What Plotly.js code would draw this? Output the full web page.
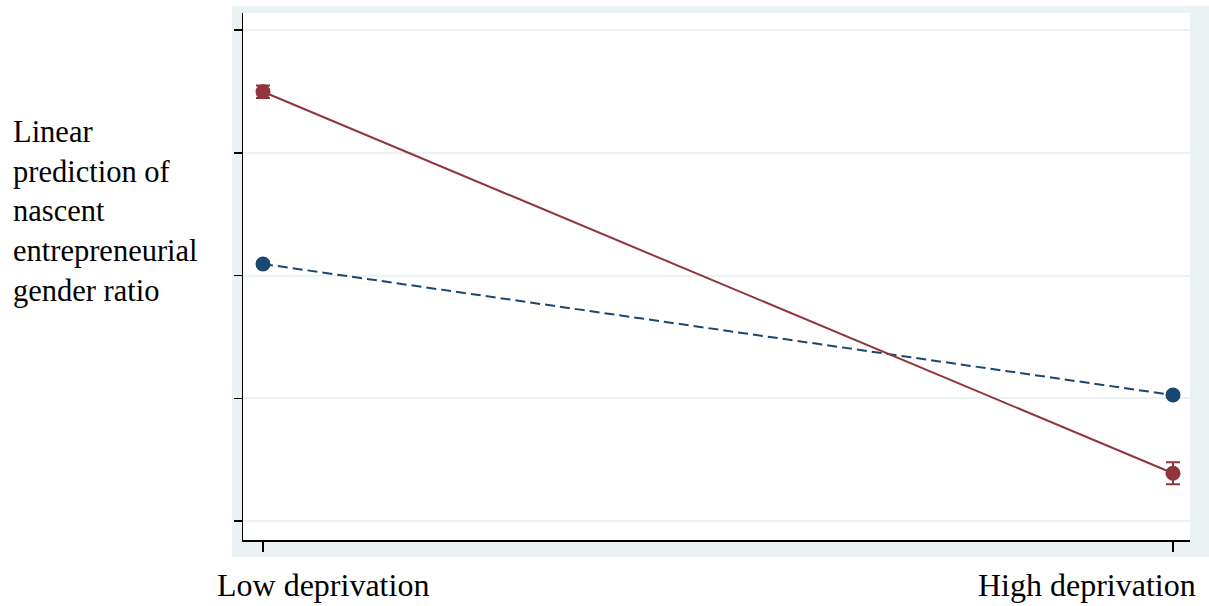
<!DOCTYPE html>
<html>
<head>
<meta charset="utf-8">
<script src="https://cdn.plot.ly/plotly-3.0.1.min.js"></script>
<style>html,body{margin:0;padding:0;background:#fff;}#chart{width:1209px;height:606px;}</style>
</head>
<body>
<div id="chart"></div>
<script>
// ---- data (y has no printed scale) ----
const categories = ['Low deprivation', 'High deprivation'];
const xPositions = [0, 1];
const seriesBlue = [2.094, 1.026];
const seriesBlueErr = [0.02, 0.02];
const seriesRed = [3.497, 0.389];
const seriesRedErr = [0.05, 0.09];
const yTickVals = [0, 1, 2, 3, 4];
const yTitleLines = ['Linear', 'prediction of', 'nascent', 'entrepreneurial', 'gender ratio'];

const navy = '#1A476F';
const maroon = '#90353B';
const bandColor = '#EAF2F3';
const fontFam = '"Liberation Serif", "Times New Roman", serif';

const traces = [
  {
    x: xPositions, y: seriesBlue, type: 'scatter', mode: 'lines+markers',
    name: 'Series 1',
    line: {color: navy, width: 2, dash: '10px,5px'},
    marker: {color: navy, size: 15},
    error_y: {type: 'data', array: seriesBlueErr, visible: true, color: navy, thickness: 1.5, width: 7}
  },
  {
    x: xPositions, y: seriesRed, type: 'scatter', mode: 'lines+markers',
    name: 'Series 2',
    line: {color: maroon, width: 2},
    marker: {color: maroon, size: 15},
    error_y: {type: 'data', array: seriesRedErr, visible: true, color: maroon, thickness: 2, width: 7}
  }
];

function px2x(p) { return (p - 243) / 947; }
function py2y(p) { return (540 - p) / 527; }
const bx0 = px2x(232), bx1 = px2x(1220), by0 = py2y(557), by1 = py2y(6);
const strip = (x0, x1, y0, y1) => ({type: 'rect', xref: 'paper', yref: 'paper', x0, x1, y0, y1,
  fillcolor: bandColor, line: {width: 0}, layer: 'below'});

const layout = {
  width: 1209, height: 606,
  margin: {l: 243, r: 19, t: 13, b: 66},
  paper_bgcolor: '#ffffff',
  plot_bgcolor: '#ffffff',
  showlegend: false,
  font: {family: fontFam, color: '#000'},
  xaxis: {
    range: [-20 / 910, 1 + 17 / 910],
    tickvals: xPositions, ticktext: ['', ''],
    ticks: 'outside', ticklen: 10, tickwidth: 1.5, tickcolor: '#000',
    showline: true, linecolor: '#000', linewidth: 1.5,
    showgrid: false, zeroline: false, fixedrange: true
  },
  yaxis: {
    range: [-19 / 122.75, 4 + 17 / 122.75],
    tickvals: yTickVals, showticklabels: false,
    ticks: 'outside', ticklen: 8, tickwidth: 1.5, tickcolor: '#000',
    showline: true, linecolor: '#000', linewidth: 1.5,
    showgrid: true, gridcolor: bandColor, gridwidth: 2,
    zeroline: false, fixedrange: true
  },
  shapes: [
    strip(bx0, bx1, 1, by1),
    strip(bx0, bx1, by0, 0),
    strip(bx0, 0, 0, 1),
    strip(1, bx1, 0, 1)
  ],
  annotations: [
    {
      xref: 'paper', yref: 'paper', x: px2x(11), y: py2y(211),
      xanchor: 'left', yanchor: 'middle', align: 'left', showarrow: false,
      text: yTitleLines.join('<br>'),
      font: {family: fontFam, size: 30.5, color: '#000'}
    },
    {
      xref: 'x', yref: 'paper', x: xPositions[0], xshift: 60, y: py2y(585),
      xanchor: 'center', yanchor: 'middle', showarrow: false,
      text: categories[0], font: {family: fontFam, size: 32, color: '#000'}
    },
    {
      xref: 'x', yref: 'paper', x: xPositions[1], xshift: -86, y: py2y(585),
      xanchor: 'center', yanchor: 'middle', showarrow: false,
      text: categories[1], font: {family: fontFam, size: 32, color: '#000'}
    }
  ]
};

Plotly.newPlot('chart', traces, layout, {displayModeBar: false, staticPlot: true});
</script>
</body>
</html>
